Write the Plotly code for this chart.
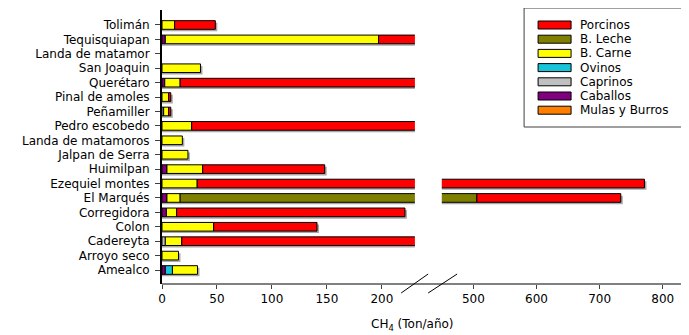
import plotly.graph_objects as go

categories = ["Tolimán", "Tequisquiapan", "Landa de matamor", "San Joaquin", "Querétaro",
              "Pinal de amoles", "Peñamiller", "Pedro escobedo", "Landa de matamoros",
              "Jalpan de Serra", "Huimilpan", "Ezequiel montes", "El Marqués", "Corregidora",
              "Colon", "Cadereyta", "Arroyo seco", "Amealco"]

mulas_burros = [0, 0, 0, 0, 0, 0, 0, 0, 0, 0, 0, 0, 0, 0, 0, 0, 0, 0]
caballos     = [0, 3, 0, 0, 2.5, 0, 0, 0, 0, 0, 4.5, 0, 4.5, 4, 0, 0, 0, 3]
caprinos     = [0, 0, 0, 0, 0, 0, 1.5, 0, 0, 0, 0, 0, 0, 0, 0, 3, 0, 0]
ovinos       = [0, 0, 0, 0, 0, 0, 0, 0, 0, 0, 0, 0, 0, 0, 0, 0, 0, 6.5]
b_carne      = [11.5, 194, 0, 35, 14, 6, 4.5, 27, 18.5, 23.6, 32.5, 32, 12, 9.3, 47, 15, 15, 22.8]
b_leche      = [0, 0, 0, 0, 0, 0, 0, 0, 0, 0, 0, 0, 489, 0, 0, 0, 0, 0]
porcinos     = [37, 53, 0, 0, 283, 2, 2, 253, 0, 0, 111, 739, 228, 207.7, 94, 282, 0, 0]

series_names = ["Mulas y Burros", "Caballos", "Caprinos", "Ovinos", "B. Carne", "B. Leche", "Porcinos"]
series_values = [mulas_burros, caballos, caprinos, ovinos, b_carne, b_leche, porcinos]
series_colors = ["#FF8000", "#800080", "#C0C0C0", "#18C4D8", "#FFFF00", "#808000", "#FF0000"]

left_ticks = [0, 50, 100, 150, 200]
right_ticks = [500, 600, 700, 800]
left_range = [0, 230]
right_range = [450, 840]

FONT = "DejaVu Sans, Liberation Sans, Arial, sans-serif"

# page offset (body margin) and geometry, all given in screenshot pixels
OFF = 8
W, H = 689 - OFF, 335 - OFF
AX_L, AX_R, AX_T, AX_B = 161.7, 688, 10, 284   # plot area in screenshot px
L = AX_L - OFF
T = AX_T - OFF
R = W - (AX_R - OFF)
B = H - (AX_B - OFF)
pw, ph = AX_R - AX_L, AX_B - AX_T

def px_x(p):
    return (p - AX_L) / pw

def px_y(p):
    return (AX_B - p) / ph

d1 = px_x(414.7)
d2 = px_x(441.7)

BAR_W = 0.6
n = len(categories)
totals = [sum(s[i] for s in series_values) for i in range(n)]

# units per pixel on each x axis (for a 2px drop shadow)
upp = {"x": (left_range[1] - left_range[0]) / (d1 * pw),
       "x2": (right_range[1] - right_range[0]) / ((1 - d2) * pw)}
upp_y = (17.97 + 1.04) / ph

fig = go.Figure()
# drop shadows
for xa in ["x", "x2"]:
    fig.add_trace(go.Bar(
        y=categories, x=[t + 2 * upp[xa] if t else None for t in totals],
        base=[0] * n, orientation="h", width=BAR_W, offset=-BAR_W / 2 + 2 * upp_y,
        marker=dict(color="#A8A8A8", line=dict(width=0)),
        xaxis=xa, yaxis="y", showlegend=False, hoverinfo="skip"))

cum = [0.0] * n
for name, vals, col in zip(series_names, series_values, series_colors):
    shown = [v if v else None for v in vals]
    base = list(cum)
    for xa in ["x", "x2"]:
        fig.add_trace(go.Bar(
            y=categories, x=shown, base=base, orientation="h", name=name,
            width=BAR_W, offset=-BAR_W / 2,
            marker=dict(color=col, line=dict(color="black", width=1)),
            xaxis=xa, yaxis="y", showlegend=False, hoverinfo="x+y+name"))
    cum = [c + v for c, v in zip(cum, vals)]

shapes = []
annotations = []
# continuous x axis line
shapes.append(dict(type="line", xref="paper", yref="paper", x0=0, x1=1, y0=0, y1=0,
                   line=dict(color="#808080", width=2)))
# break marks
for x0p, x1p in [(401, 428), (428, 457)]:
    shapes.append(dict(type="line", xref="paper", yref="paper",
                       x0=px_x(x0p), x1=px_x(x1p), y0=px_y(293), y1=px_y(274),
                       line=dict(color="black", width=1)))
# legend box
shapes.append(dict(type="rect", xref="paper", yref="paper",
                   x0=px_x(524), x1=px_x(688), y0=px_y(127), y1=px_y(8),
                   line=dict(color="#404040", width=1), fillcolor="white"))
for i, (name, col) in enumerate(zip(series_names[::-1], series_colors[::-1])):
    cy = 25 + i * 14.2
    shapes.append(dict(type="rect", xref="paper", yref="paper",
                       x0=px_x(538), x1=px_x(571), y0=px_y(cy + 4), y1=px_y(cy - 4),
                       line=dict(color="black", width=1), fillcolor=col))
    annotations.append(dict(xref="paper", yref="paper", x=px_x(578), y=px_y(cy),
                            text=name, showarrow=False, xanchor="left", yanchor="middle",
                            font=dict(family=FONT, size=12, color="black")))
# axis title
annotations.append(dict(xref="paper", yref="paper", x=px_x(412), y=px_y(325),
                        text="CH<sub>4</sub> (Ton/año)", showarrow=False,
                        xanchor="center", yanchor="middle",
                        font=dict(family=FONT, size=12, color="black")))

tickfont = dict(family=FONT, size=12, color="black")
fig.update_layout(
    width=W, height=H, margin=dict(l=L, r=R, t=T, b=B, autoexpand=False),
    barmode="overlay",
    plot_bgcolor="white", paper_bgcolor="white",
    font=dict(family=FONT, size=12, color="black"),
    showlegend=False,
    xaxis=dict(domain=[0, d1], range=left_range, tickvals=left_ticks,
               ticks="outside", ticklen=4, tickcolor="#404040", showgrid=False,
               zeroline=False, showline=False, anchor="y", tickfont=tickfont),
    xaxis2=dict(domain=[d2, 1], range=right_range, tickvals=right_ticks,
                ticks="outside", ticklen=4, tickcolor="#404040", showgrid=False,
                zeroline=False, showline=False, anchor="y", tickfont=tickfont),
    yaxis=dict(range=[17.97, -1.04], type="category", showline=True, linecolor="black",
               linewidth=2, ticks="outside", ticklen=5, tickcolor="#404040",
               ticklabelstandoff=3,
               showgrid=False, zeroline=False, tickfont=tickfont),
    shapes=shapes, annotations=annotations,
)

fig.write_html("out.html")
